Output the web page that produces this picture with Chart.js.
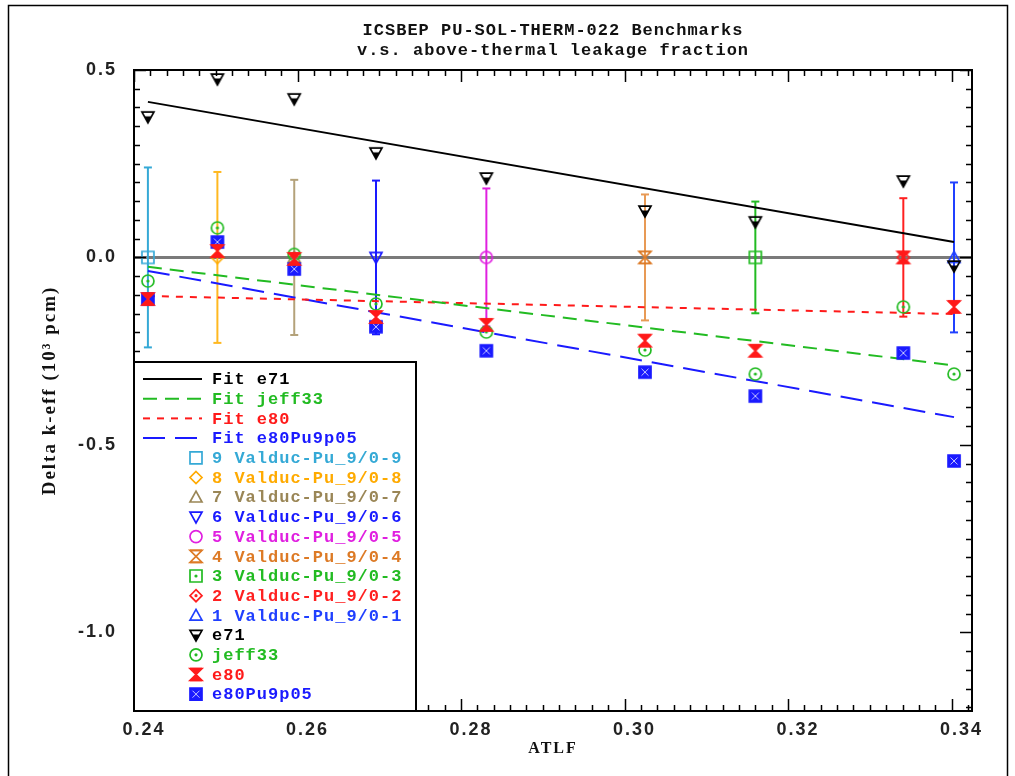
<!DOCTYPE html>
<html>
<head>
<meta charset="utf-8">
<script src="https://cdn.jsdelivr.net/npm/chart.js@4.4.0/dist/chart.umd.min.js"></script>
<style>
  html, body { margin: 0; padding: 0; background: #fff; }
  canvas { display: block; }
</style>
</head>
<body>
<canvas id="atlfChart" width="1015" height="776"></canvas>
<script>
// ICSBEP PU-SOL-THERM-022 benchmarks vs above-thermal leakage fraction

// Benchmark cases (one per ATLF value)
const atlf = [0.2417, 0.2502, 0.2596, 0.2696, 0.2831, 0.3025, 0.3160, 0.3341, 0.3403];
const caseNames = [
    '9 Valduc-Pu_9/0-9', '8 Valduc-Pu_9/0-8', '7 Valduc-Pu_9/0-7',
    '6 Valduc-Pu_9/0-6', '5 Valduc-Pu_9/0-5', '4 Valduc-Pu_9/0-4',
    '3 Valduc-Pu_9/0-3', '2 Valduc-Pu_9/0-2', '1 Valduc-Pu_9/0-1'
];
const caseColors = ['#35a9d6', '#ffaa00', '#9a8656', '#1a1aff', '#e020e0', '#dd7a25', '#22bb22', '#ff2020', '#2040ff'];
const barColors = ['#35a9d6', '#ffb820', '#b4a27a', '#1a1aff', '#e020e0', '#e89a55', '#22bb22', '#ff2020', '#2040ff'];
const caseSymbols = ['square', 'diamond', 'triUp', 'triDown', 'circle', 'hourglass', 'squareDot', 'diamondDot', 'triUp'];
const caseValues = [0, 0, 0, 0, 0, 0, 0, 0, 0];
const caseUnc = [0.240, 0.228, 0.207, 0.205, 0.184, 0.168, 0.149, 0.158, 0.200];

// Calculated Delta k-eff (10^3 pcm) per library
const e71 = [0.375, 0.476, 0.423, 0.279, 0.212, 0.124, 0.095, 0.204, -0.023];
const jeff33 = [-0.063, 0.079, 0.008, -0.124, -0.199, -0.247, -0.311, -0.132, -0.311];
const e80 = [-0.111, 0.017, -0.004, -0.159, -0.180, -0.222, -0.249, 0.000, -0.132];
const e80Pu9p05 = [-0.111, 0.041, -0.031, -0.185, -0.249, -0.306, -0.370, -0.255, -0.543];

// Linear fits (end points)
const fitX = [0.2417, 0.3403];
const fitE71 = [0.415, 0.041];
const fitJeff33 = [-0.025, -0.288];
const fitE80 = [-0.103, -0.151];
const fitE80Pu9p05 = [-0.036, -0.426];

const xTicks = [0.24, 0.26, 0.28, 0.30, 0.32, 0.34];
const yTicks = [-1.0, -0.5, 0.0, 0.5];
const xRange = [0.24, 0.3425];
const yRange = [-1.21, 0.5];

const MONO = '"Liberation Mono", "DejaVu Sans Mono", monospace';

function drawSymbol(ctx, kind, color, x, y) {
    const s = 6;
    ctx.save();
    ctx.strokeStyle = color;
    ctx.fillStyle = color;
    ctx.lineWidth = 1.7;
    ctx.lineJoin = 'miter';
    ctx.beginPath();
    switch (kind) {
        case 'square':
        case 'squareDot':
            ctx.rect(x - s, y - s, 2 * s, 2 * s);
            ctx.stroke();
            break;
        case 'diamond':
        case 'diamondDot':
            ctx.moveTo(x, y - s); ctx.lineTo(x + s, y); ctx.lineTo(x, y + s); ctx.lineTo(x - s, y);
            ctx.closePath();
            ctx.stroke();
            break;
        case 'triUp':
            ctx.moveTo(x, y - s); ctx.lineTo(x + s, y + s * 0.8); ctx.lineTo(x - s, y + s * 0.8);
            ctx.closePath();
            ctx.stroke();
            break;
        case 'triDown':
            ctx.moveTo(x - s, y - s * 0.8); ctx.lineTo(x + s, y - s * 0.8); ctx.lineTo(x, y + s);
            ctx.closePath();
            ctx.stroke();
            break;
        case 'circle':
        case 'circleDot':
            ctx.arc(x, y, s, 0, Math.PI * 2);
            ctx.stroke();
            break;
        case 'hourglass':
        case 'hourglassFill':
            ctx.moveTo(x - s, y - s); ctx.lineTo(x + s, y - s); ctx.lineTo(x - s, y + s); ctx.lineTo(x + s, y + s);
            ctx.closePath();
            if (kind === 'hourglassFill') ctx.fill();
            ctx.stroke();
            ctx.beginPath();
            ctx.moveTo(x - s, y - s); ctx.lineTo(x + s, y - s);
            ctx.moveTo(x - s, y + s); ctx.lineTo(x + s, y + s);
            ctx.stroke();
            break;
        case 'triDownFill':
            ctx.moveTo(x - s, y - s * 0.8); ctx.lineTo(x + s, y - s * 0.8); ctx.lineTo(x, y + s);
            ctx.closePath();
            ctx.stroke();
            ctx.beginPath();
            ctx.moveTo(x - s * 0.55, y - 0.5); ctx.lineTo(x + s * 0.55, y - 0.5); ctx.lineTo(x, y + s);
            ctx.closePath();
            ctx.fill();
            break;
        case 'squareX':
            ctx.rect(x - s, y - s, 2 * s, 2 * s);
            ctx.fill();
            ctx.stroke();
            ctx.strokeStyle = 'rgba(255,255,255,0.75)';
            ctx.lineWidth = 1;
            ctx.beginPath();
            ctx.moveTo(x - s + 2.5, y - s + 2.5); ctx.lineTo(x + s - 2.5, y + s - 2.5);
            ctx.moveTo(x + s - 2.5, y - s + 2.5); ctx.lineTo(x - s + 2.5, y + s - 2.5);
            ctx.stroke();
            break;
    }
    if (kind.endsWith('Dot')) {
        ctx.beginPath();
        ctx.arc(x, y, 1.6, 0, Math.PI * 2);
        ctx.fill();
    }
    ctx.restore();
}

function makeSymbol(kind, color) {
    const c = document.createElement('canvas');
    c.width = 20;
    c.height = 20;
    drawSymbol(c.getContext('2d'), kind, color, 10, 10);
    return c;
}

const pts = (xs, ys) => xs.map((x, i) => ({x: x, y: ys[i]}));

// model series: name, values, symbol, color, fit values, fit dash
const models = [
    {name: 'e71', values: e71, symbol: 'triDownFill', color: '#000000', fit: fitE71, dash: []},
    {name: 'jeff33', values: jeff33, symbol: 'circleDot', color: '#22bb22', fit: fitJeff33, dash: [14, 8]},
    {name: 'e80', values: e80, symbol: 'hourglassFill', color: '#ff1a1a', fit: fitE80, dash: [7, 7]},
    {name: 'e80Pu9p05', values: e80Pu9p05, symbol: 'squareX', color: '#1a1aff', fit: fitE80Pu9p05, dash: [22, 10]}
];
models.forEach(m => m.img = makeSymbol(m.symbol, m.color));
const caseImgs = caseSymbols.map((k, i) => makeSymbol(k, caseColors[i]));

const datasets = [];

// model markers (on top): e80 above e80Pu9p05 above jeff33 above e71
[2, 3, 1, 0].forEach(i => {
    const m = models[i];
    datasets.push({
        label: m.name,
        data: pts(atlf, m.values),
        showLine: false,
        pointStyle: m.img,
        pointRadius: 6,
        order: 0
    });
});

datasets.push({
    label: 'Valduc',
    data: pts(atlf, caseValues),
    showLine: false,
    pointStyle: caseImgs,
    pointRadius: 6,
    order: 1
});

models.forEach(m => {
    datasets.push({
        label: 'Fit ' + m.name,
        data: pts(fitX, m.fit),
        showLine: true,
        borderColor: m.color,
        borderWidth: 2,
        borderDash: m.dash,
        pointRadius: 0,
        order: 2
    });
});

atlf.forEach((x, i) => {
    datasets.push({
        label: 'err ' + caseNames[i],
        data: [{x: x, y: caseValues[i] - caseUnc[i]}, {x: x, y: caseValues[i] + caseUnc[i]}],
        showLine: true,
        borderColor: barColors[i],
        borderWidth: 2,
        pointStyle: 'line',
        pointRadius: 4,
        pointBorderWidth: 2,
        pointBorderColor: barColors[i],
        order: 3
    });
});

datasets.push({
    label: 'zero',
    data: pts(xRange, [0, 0]),
    showLine: true,
    borderColor: '#7a7a7a',
    borderWidth: 3,
    pointRadius: 0,
    order: 4
});

const framePlugin = {
    id: 'frame',
    beforeDraw(chart) {
        const ctx = chart.ctx;
        ctx.save();
        ctx.fillStyle = '#fff';
        ctx.fillRect(0, 0, chart.width, chart.height);
        ctx.strokeStyle = '#000';
        ctx.lineWidth = 1.5;
        ctx.strokeRect(8.5, 5.5, 999, 800);
        // title
        ctx.fillStyle = '#111';
        ctx.font = 'bold 17px ' + MONO;
        ctx.letterSpacing = '1px';
        ctx.textAlign = 'center';
        ctx.textBaseline = 'middle';
        const cx = (chart.chartArea.left + chart.chartArea.right) / 2;
        ctx.fillText('ICSBEP PU-SOL-THERM-022 Benchmarks', cx, 31);
        ctx.fillText('v.s. above-thermal leakage fraction', cx, 51);
        ctx.restore();
        // wide spacing for axis text
        ctx.letterSpacing = '2px';
    },
    afterDatasetsDraw(chart) {
        const ctx = chart.ctx;
        const {left, right, top, bottom} = chart.chartArea;
        const xs = chart.scales.x;
        const ys = chart.scales.y;
        ctx.save();
        ctx.letterSpacing = '0px';
        ctx.strokeStyle = '#000';
        ctx.lineWidth = 1.5;
        ctx.beginPath();
        for (let k = 0; k <= 51; k++) {
            const v = 0.24 + k * 0.002;
            if (v > xRange[1]) break;
            const px = Math.round(xs.getPixelForValue(v)) + 0.5;
            const len = (k % 10 === 0) ? 12 : 6;
            ctx.moveTo(px, bottom); ctx.lineTo(px, bottom - len);
            ctx.moveTo(px, top); ctx.lineTo(px, top + len);
        }
        for (let k = 0; k <= 34; k++) {
            const v = 0.5 - k * 0.05;
            if (v < yRange[0]) break;
            const py = Math.round(ys.getPixelForValue(v)) + 0.5;
            const len = (k % 10 === 0) ? 12 : 6;
            ctx.moveTo(left, py); ctx.lineTo(left + len, py);
            ctx.moveTo(right, py); ctx.lineTo(right - len, py);
        }
        ctx.stroke();
        ctx.lineWidth = 2;
        ctx.strokeRect(left, top, right - left, bottom - top);

        // legend box
        const lx = left, ly = 362, lw = 282, lh = bottom - 362;
        ctx.fillStyle = '#fff';
        ctx.fillRect(lx, ly, lw, lh);
        ctx.strokeRect(lx, ly, lw, lh);

        ctx.font = 'bold 17px ' + MONO;
        ctx.letterSpacing = '1px';
        ctx.textAlign = 'left';
        ctx.textBaseline = 'middle';
        let row = 0;
        const rowY = r => 379 + r * 19.7;
        models.forEach(m => {
            const y = rowY(row++);
            ctx.save();
            ctx.strokeStyle = m.color;
            ctx.lineWidth = 2;
            ctx.setLineDash(m.dash);
            ctx.beginPath();
            ctx.moveTo(143, y); ctx.lineTo(202, y);
            ctx.stroke();
            ctx.restore();
            ctx.fillStyle = m.color;
            ctx.fillText('Fit ' + m.name, 212, y + 1);
        });
        caseNames.forEach((name, i) => {
            const y = rowY(row++);
            drawSymbol(ctx, caseSymbols[i], caseColors[i], 196, y);
            ctx.fillStyle = caseColors[i];
            ctx.fillText(name, 212, y + 1);
        });
        models.forEach(m => {
            const y = rowY(row++);
            drawSymbol(ctx, m.symbol, m.color, 196, y);
            ctx.fillStyle = m.color;
            ctx.fillText(m.name, 212, y + 1);
        });
        ctx.restore();
    }
};

new Chart(document.getElementById('atlfChart'), {
    type: 'scatter',
    data: {datasets: datasets},
    options: {
        responsive: false,
        animation: false,
        devicePixelRatio: 1,
        layout: {padding: {left: 0, top: 70, right: 43, bottom: 0}},
        plugins: {
            legend: {display: false},
            tooltip: {enabled: false}
        },
        scales: {
            x: {
                type: 'linear',
                min: xRange[0],
                max: xRange[1],
                afterBuildTicks: scale => { scale.ticks = xTicks.map(v => ({value: v})); },
                afterFit: scale => { scale.height = 65; },
                grid: {display: false, drawTicks: false},
                border: {display: false},
                ticks: {
                    color: '#222',
                    padding: 8,
                    labelOffset: 10,
                    maxRotation: 0,
                    autoSkip: false,
                    font: {family: '"Liberation Sans", Arial, sans-serif', size: 18, weight: 'bold'},
                    callback: v => v.toFixed(2)
                },
                title: {
                    display: true,
                    text: 'ATLF',
                    color: '#111',
                    font: {family: '"Liberation Serif", serif', size: 16, weight: 'bold'},
                    padding: {top: 18, bottom: 18}
                }
            },
            y: {
                type: 'linear',
                min: yRange[0],
                max: yRange[1],
                afterBuildTicks: scale => { scale.ticks = yTicks.map(v => ({value: v})); },
                afterFit: scale => { scale.width = 134; },
                grid: {display: false, drawTicks: false},
                border: {display: false},
                ticks: {
                    color: '#222',
                    padding: 17,
                    autoSkip: false,
                    font: {family: '"Liberation Sans", Arial, sans-serif', size: 18, weight: 'bold'},
                    callback: v => v.toFixed(1)
                },
                title: {
                    display: true,
                    text: 'Delta k-eff (10³ pcm)',
                    color: '#111',
                    font: {family: '"Liberation Serif", serif', size: 19, weight: 'bold'},
                    padding: {top: 39, bottom: 39}
                }
            }
        }
    },
    plugins: [framePlugin]
});
</script>
</body>
</html>
